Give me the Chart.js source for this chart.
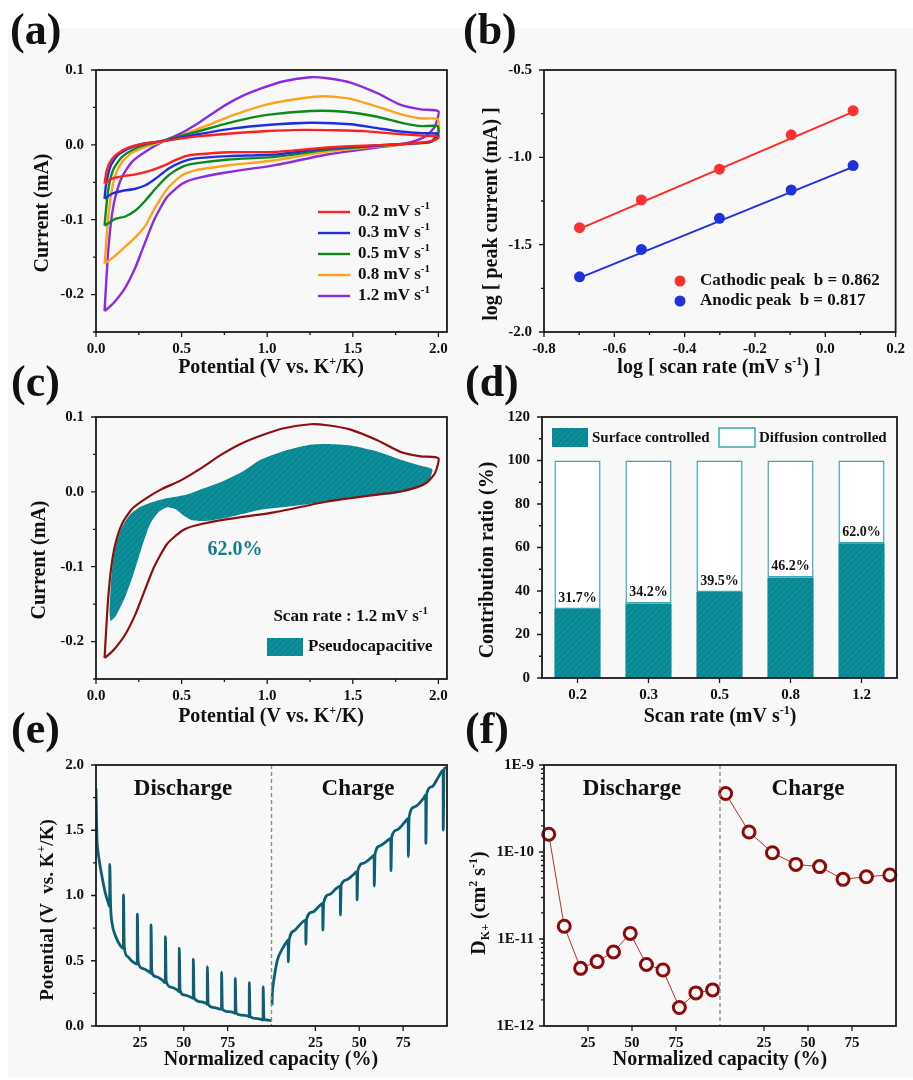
<!DOCTYPE html>
<html>
<head>
<meta charset="utf-8">
<script src="https://cdn.jsdelivr.net/npm/chart.js@4.4.0/dist/chart.umd.min.js"></script>
<style>
  html, body { margin: 0; padding: 0; background: #fff; }
  #fig { position: relative; width: 913px; height: 1080px; overflow: hidden; }
  #bg { position: absolute; left: 8px; top: 28px; width: 905px; height: 1050px; background: #f8f8f8; }
  canvas { position: absolute; }
</style>
</head>
<body>
<div id="fig">
  <div id="bg"></div>
  <canvas id="cvA" width="456" height="380" style="left:0;top:0"></canvas>
  <canvas id="cvB" width="458" height="380" style="left:455px;top:0"></canvas>
  <canvas id="cvC" width="456" height="375" style="left:0;top:360px"></canvas>
  <canvas id="cvD" width="458" height="375" style="left:455px;top:360px"></canvas>
  <canvas id="cvE" width="456" height="380" style="left:0;top:700px"></canvas>
  <canvas id="cvF" width="458" height="380" style="left:455px;top:700px"></canvas>
</div>
<script>
// ---- data ----
const scanRates = ['0.2', '0.3', '0.5', '0.8', '1.2'];

// CV loops [potential V, current mA]: anodic sweep up to 2.0 V, then cathodic sweep back
const cv02 = [[0.05,-0.052],[0.064,-0.033],[0.093,-0.019],[0.132,-0.011],[0.191,-0.0035],[0.269,0.0012],[0.386,0.005],[0.58,0.011],[0.805,0.0155],[1.0,0.0185],[1.195,0.020],[1.4,0.0195],[1.585,0.018],[1.741,0.015],[1.858,0.0131],[1.936,0.0117],[1.995,0.0117],[2.0,0.009],[1.955,0.0049],[1.838,0.0018],[1.643,-0.0004],[1.351,-0.0035],[1.048,-0.0094],[0.776,-0.0098],[0.58,-0.0129],[0.522,-0.015],[0.464,-0.0205],[0.386,-0.0286],[0.308,-0.035],[0.23,-0.0394],[0.152,-0.042],[0.093,-0.045],[0.05,-0.052]];
const cv03 = [[0.05,-0.072],[0.058,-0.054],[0.084,-0.029],[0.122,-0.0152],[0.191,-0.0049],[0.269,0.0012],[0.386,0.005],[0.58,0.0135],[0.805,0.022],[1.0,0.0265],[1.253,0.0295],[1.49,0.0275],[1.65,0.022],[1.78,0.0178],[1.9,0.0155],[1.995,0.015],[2.0,0.011],[1.955,0.004],[1.838,0.0018],[1.643,-0.0009],[1.351,-0.0045],[1.048,-0.0129],[0.776,-0.015],[0.58,-0.0181],[0.503,-0.0226],[0.425,-0.0316],[0.347,-0.0452],[0.289,-0.054],[0.23,-0.0586],[0.152,-0.0617],[0.093,-0.0653],[0.05,-0.072]];
const cv05 = [[0.05,-0.108],[0.058,-0.0877],[0.074,-0.0563],[0.103,-0.032],[0.152,-0.0161],[0.23,-0.0049],[0.308,0.0012],[0.386,0.0054],[0.58,0.017],[0.805,0.031],[1.0,0.040],[1.253,0.0452],[1.448,0.0443],[1.643,0.0376],[1.799,0.0286],[1.897,0.025],[1.995,0.025],[2.0,0.015],[1.955,0.004],[1.838,0.0018],[1.643,-0.0013],[1.351,-0.0067],[1.048,-0.0161],[0.776,-0.0195],[0.58,-0.0248],[0.503,-0.0293],[0.425,-0.0405],[0.347,-0.0586],[0.289,-0.0743],[0.23,-0.0877],[0.171,-0.0957],[0.113,-0.0989],[0.05,-0.108]];
const cv08 = [[0.05,-0.159],[0.058,-0.137],[0.07,-0.101],[0.089,-0.065],[0.113,-0.0405],[0.152,-0.0228],[0.21,-0.0107],[0.288,-0.0027],[0.386,0.004],[0.493,0.012],[0.649,0.026],[0.805,0.040],[1.0,0.054],[1.195,0.062],[1.332,0.065],[1.487,0.0615],[1.643,0.051],[1.799,0.0398],[1.897,0.0353],[1.995,0.0344],[2.0,0.02],[1.955,0.004],[1.838,0.0013],[1.643,-0.0022],[1.351,-0.0089],[1.048,-0.0205],[0.776,-0.0273],[0.58,-0.034],[0.503,-0.0405],[0.425,-0.0564],[0.347,-0.0832],[0.289,-0.1078],[0.23,-0.1235],[0.171,-0.136],[0.113,-0.148],[0.05,-0.159]];
const cv12 = [[0.05,-0.222],[0.058,-0.19],[0.07,-0.146],[0.089,-0.101],[0.113,-0.0697],[0.152,-0.0429],[0.21,-0.0228],[0.288,-0.0093],[0.386,0.004],[0.493,0.015],[0.61,0.031],[0.727,0.049],[0.844,0.064],[0.961,0.075],[1.097,0.085],[1.253,0.0903],[1.351,0.089],[1.487,0.0832],[1.643,0.069],[1.78,0.0533],[1.897,0.0474],[2.0,0.045],[1.98,0.025],[1.936,0.0131],[1.877,0.0063],[1.78,0.0005],[1.643,-0.0036],[1.351,-0.0129],[1.048,-0.027],[0.776,-0.0362],[0.58,-0.045],[0.503,-0.052],[0.415,-0.0697],[0.338,-0.101],[0.269,-0.141],[0.23,-0.1637],[0.171,-0.1906],[0.113,-0.2085],[0.074,-0.2175],[0.05,-0.222]];

// log(scan rate) vs log(peak current)
const logScanRate = [-0.699, -0.523, -0.301, -0.097, 0.079];
const logCathodic = [-1.403, -1.244, -1.068, -0.871, -0.733];
const logAnodic = [-1.684, -1.527, -1.349, -1.187, -1.047];
const fitX = [-0.699, 0.079];
const cathodicFit = [-1.41, -0.74];
const anodicFit = [-1.69, -1.055];
const bValues = [0.862, 0.817];

// pseudocapacitive region at 1.2 mV/s
const pseudoRegion = [[0.084,-0.173],[0.079,-0.16],[0.085,-0.13],[0.095,-0.10],[0.115,-0.072],[0.15,-0.048],[0.2,-0.03],[0.26,-0.02],[0.327,-0.014],[0.405,-0.009],[0.483,-0.006],[0.542,-0.003],[0.62,0.004],[0.737,0.014],[0.854,0.027],[0.961,0.043],[1.117,0.056],[1.253,0.063],[1.351,0.064],[1.487,0.062],[1.643,0.054],[1.78,0.043],[1.897,0.035],[1.965,0.030],[1.936,0.012],[1.858,0.004],[1.741,-0.003],[1.545,-0.007],[1.351,-0.013],[1.156,-0.019],[0.961,-0.024],[0.776,-0.034],[0.64,-0.039],[0.562,-0.038],[0.513,-0.032],[0.464,-0.023],[0.415,-0.0205],[0.366,-0.027],[0.318,-0.042],[0.269,-0.073],[0.22,-0.109],[0.171,-0.14],[0.113,-0.167],[0.084,-0.173]];

// capacity contribution (%)
const surfacePct = [31.7, 34.2, 39.5, 46.2, 62.0];
const diffusionPct = [68.3, 65.8, 60.5, 53.8, 38.0];

// GITT profile: normalized capacity 0-100 discharge, 100-200 charge
const gittDisCap = [0,0.25,0.55,1.0,1.5,2.4,3.4,5.3,7.2,7.8,7.85,8.3,9.15,11.1,13.9,15.6,15.65,16.1,17.75,20.6,23.5,23.55,24.0,26.4,30.2,31.3,31.35,31.8,34.0,37.8,39.5,39.55,40.0,42.6,46.4,47.4,47.45,47.9,50.2,54.1,55.4,55.45,55.9,58.9,62.7,63.4,63.45,63.9,66.5,70.7,71.5,71.55,72.0,75.1,78.7,79.3,79.35,79.8,82.7,86.5,87.3,87.35,87.8,90.4,94.2,95.2,95.25,95.7,97.5,100];
const gittDisV = [1.82,1.62,1.43,1.35,1.30,1.22,1.145,1.02,0.935,0.915,1.239,0.93,0.79,0.69,0.615,0.595,1.004,0.61,0.535,0.495,0.475,0.858,0.49,0.442,0.416,0.404,0.774,0.415,0.378,0.352,0.332,0.685,0.345,0.298,0.275,0.263,0.596,0.27,0.238,0.22,0.212,0.513,0.218,0.187,0.174,0.166,0.455,0.17,0.143,0.13,0.128,0.412,0.13,0.11,0.102,0.097,0.366,0.1,0.084,0.077,0.071,0.335,0.074,0.059,0.051,0.046,0.301,0.05,0.046,0.04];
const gittChgCap = [100.3,100.5,101.1,101.9,103.4,106.3,108.8,109.5,109.55,110.0,112.9,117.8,119.5,119.55,120.0,123.5,127.3,129.2,129.25,129.7,133.1,136.9,139.2,139.25,139.7,142.6,146.4,148.7,148.75,149.2,152.2,157.0,158.5,158.55,159.0,161.7,166.5,168.0,168.05,168.5,171.3,176.1,177.9,177.95,178.4,181.8,186.6,187.9,187.95,188.4,191.3,195.2,197.8,197.85,198.3,199.5];
const gittChgV = [0.16,0.25,0.33,0.403,0.506,0.595,0.647,0.659,0.492,0.655,0.73,0.799,0.812,0.626,0.82,0.874,0.92,0.939,0.734,0.945,1.008,1.054,1.072,0.85,1.08,1.119,1.157,1.182,0.965,1.19,1.246,1.292,1.31,1.072,1.318,1.38,1.425,1.438,1.188,1.447,1.502,1.565,1.591,1.297,1.6,1.681,1.745,1.771,1.40,1.78,1.833,1.91,1.961,1.502,1.965,1.98];

// K+ diffusion coefficient (cm2/s)
const diffDisCap = [2.7, 11.5, 20.8, 30.2, 39.5, 49.0, 58.2, 67.6, 76.9, 86.3, 95.8];
const diffDis = [1.6e-10, 1.4e-11, 4.6e-12, 5.5e-12, 7.1e-12, 1.16e-11, 5.1e-12, 4.4e-12, 1.63e-12, 2.4e-12, 2.6e-12];
const diffChgCap = [103.2, 116.5, 129.8, 143.1, 156.6, 169.9, 183.2, 196.5];
const diffChg = [4.7e-10, 1.7e-10, 9.8e-11, 7.2e-11, 6.8e-11, 4.85e-11, 5.2e-11, 5.45e-11];

// tick labels
const cvXTicks = [0, 0.5, 1.0, 1.5, 2.0];
const cvYTicks = [-0.2, -0.1, 0, 0.1];
const logXTicks = [-0.8, -0.6, -0.4, -0.2, 0, 0.2];
const logYTicks = [-2.0, -1.5, -1.0, -0.5];
const ratioTicks = [0, 20, 40, 60, 80, 100, 120];
const gittYTicks = [0, 0.5, 1.0, 1.5, 2.0];
const capTicks = [25, 50, 75, 125, 150, 175];
const capTickLabels = ['25', '50', '75', '25', '50', '75'];
const diffTicks = [1e-12, 1e-11, 1e-10, 1e-9];

// ---- styling ----
const SERIF = '"Liberation Serif", "Times New Roman", Times, serif';
const cvColors = ['#ff1f1f', '#1f2fe0', '#0d8a1d', '#ffa31a', '#8b2be0'];
const TEAL = '#0c8e99';
const XH = 30;

Chart.defaults.font.family = SERIF;
Chart.defaults.font.weight = 'bold';
Chart.defaults.font.size = 15;
Chart.defaults.color = '#111';

function hatch(base) {
  const c = document.createElement('canvas');
  c.width = c.height = 6;
  const g = c.getContext('2d');
  g.fillStyle = base;
  g.fillRect(0, 0, 6, 6);
  g.strokeStyle = 'rgba(0,50,60,0.22)';
  g.lineWidth = 1;
  g.beginPath();
  g.moveTo(0, 6); g.lineTo(6, 0);
  g.moveTo(-1, 1); g.lineTo(1, -1);
  g.moveTo(5, 7); g.lineTo(7, 5);
  g.stroke();
  return g.createPattern(c, 'repeat');
}
const tealHatch = hatch(TEAL);

// text with ^{sup} and _{sub} parts
function richText(ctx, str, x, y, size, opts = {}) {
  const parts = [];
  const re = /([\^_])\{([^}]*)\}/g;
  let last = 0, m;
  while ((m = re.exec(str))) {
    if (m.index > last) parts.push({ t: str.slice(last, m.index), k: '' });
    parts.push({ t: m[2], k: m[1] });
    last = re.lastIndex;
  }
  if (last < str.length) parts.push({ t: str.slice(last), k: '' });
  const small = Math.round(size * 0.62);
  const fontOf = k => `bold ${k ? small : size}px ${SERIF}`;
  let total = 0;
  parts.forEach(p => { ctx.font = fontOf(p.k); p.w = ctx.measureText(p.t).width; total += p.w; });
  ctx.save();
  ctx.translate(x, y);
  if (opts.rotate) ctx.rotate(opts.rotate);
  ctx.fillStyle = opts.color || '#111';
  ctx.textBaseline = 'middle';
  ctx.textAlign = 'left';
  let cx = opts.align === 'left' ? 0 : opts.align === 'right' ? -total : -total / 2;
  parts.forEach(p => {
    ctx.font = fontOf(p.k);
    const dy = p.k === '^' ? -size * 0.32 : p.k === '_' ? size * 0.3 : 0;
    ctx.fillText(p.t, cx, dy);
    cx += p.w;
  });
  ctx.restore();
  return total;
}

function minorValues(scale, step) {
  const out = [];
  if (step === 'log') {
    for (let e = Math.round(Math.log10(scale.min)); e < Math.round(Math.log10(scale.max)); e++)
      for (let k = 2; k < 10; k++) out.push(k * Math.pow(10, e));
  } else if (step) {
    for (let v = Math.ceil(scale.min / step - 1e-9) * step; v <= scale.max + 1e-9; v += step) out.push(v);
  }
  return out;
}

// box frame, outward ticks, titles and panel letter
function decor(cfg) {
  return {
    id: 'decor',
    afterDraw(chart) {
      const ctx = chart.ctx, a = chart.chartArea;
      const xs = chart.scales.x, ys = chart.scales.y;
      if (cfg.extraBelow) cfg.extraBelow(chart, ctx);
      ctx.save();
      ctx.strokeStyle = '#1a1a1a';
      ctx.lineWidth = 1.3;
      ctx.beginPath();
      xs.ticks.forEach((t, i) => {
        const px = xs.getPixelForTick(i);
        ctx.moveTo(px, a.bottom); ctx.lineTo(px, a.bottom + 5);
      });
      ys.ticks.forEach((t, i) => {
        const py = ys.getPixelForTick(i);
        ctx.moveTo(a.left, py); ctx.lineTo(a.left - 5, py);
      });
      minorValues(xs, cfg.xMinor).forEach(v => {
        const px = xs.getPixelForValue(v);
        ctx.moveTo(px, a.bottom); ctx.lineTo(px, a.bottom + 3);
      });
      minorValues(ys, cfg.yMinor).forEach(v => {
        const py = ys.getPixelForValue(v);
        ctx.moveTo(a.left, py); ctx.lineTo(a.left - 3, py);
      });
      ctx.stroke();
      ctx.lineWidth = 1.8;
      ctx.strokeRect(a.left, a.top, a.right - a.left, a.bottom - a.top);
      ctx.restore();
      richText(ctx, cfg.letter, cfg.letterAt[0], cfg.letterAt[1], 44, { align: 'left' });
      richText(ctx, cfg.xTitle, cfg.xTitleAt[0], cfg.xTitleAt[1], 20);
      richText(ctx, cfg.yTitle, cfg.yTitleAt[0], cfg.yTitleAt[1], cfg.yTitleSize || 20, { rotate: -Math.PI / 2 });
      if (cfg.extra) cfg.extra(chart, ctx);
    }
  };
}

function linAxis(min, max, ticks, fmt, size, pad, type) {
  return {
    type: type || 'linear', min, max,
    grid: { display: false, drawTicks: false },
    border: { display: false },
    afterBuildTicks: s => { s.ticks = ticks.map(v => ({ value: v })); },
    afterFit: s => { if (s.isHorizontal()) s.height = size; else s.width = size; },
    ticks: { padding: pad, autoSkip: false, maxRotation: 0, callback: fmt }
  };
}

function baseOptions(box, xAxis, yAxis) {
  const c = box.canvas, a = box.area;
  return {
    responsive: false, animation: false, devicePixelRatio: 1, events: [],
    layout: { padding: { left: 0, top: a.t - c.t, right: c.l + c.w - a.r, bottom: c.t + c.h - a.b - XH } },
    plugins: { legend: { display: false }, tooltip: { enabled: false } },
    scales: { x: xAxis, y: yAxis }
  };
}

const panels = {
  a: { canvas: { l: 0, t: 0, w: 456, h: 380 }, area: { l: 96, t: 70, r: 447, b: 332 } },
  b: { canvas: { l: 455, t: 0, w: 458, h: 380 }, area: { l: 544, t: 70, r: 896, b: 332 } },
  c: { canvas: { l: 0, t: 360, w: 456, h: 375 }, area: { l: 96, t: 417, r: 447, b: 679 } },
  d: { canvas: { l: 455, t: 360, w: 458, h: 375 }, area: { l: 542, t: 417, r: 897, b: 678 } },
  e: { canvas: { l: 0, t: 700, w: 456, h: 380 }, area: { l: 96, t: 765, r: 447, b: 1026 } },
  f: { canvas: { l: 455, t: 700, w: 458, h: 380 }, area: { l: 544, t: 765, r: 896, b: 1026 } }
};
const yw = k => panels[k].area.l - panels[k].canvas.l;
const f1 = v => v.toFixed(1);
const pairs = arr => arr.map(([x, y]) => ({ x, y }));
const zip = (xs, ys) => xs.map((x, i) => ({ x, y: ys[i] }));

// (a) CV curves at several scan rates
new Chart(document.getElementById('cvA'), {
  type: 'line',
  data: {
    datasets: [cv02, cv03, cv05, cv08, cv12].map((pts, i) => ({
      label: scanRates[i] + ' mV s^{-1}',
      data: pairs(pts),
      borderColor: cvColors[i], borderWidth: 2.4, pointRadius: 0, tension: 0.2, fill: false
    }))
  },
  options: baseOptions(panels.a,
    linAxis(0, 2.05, cvXTicks, f1, XH, 8),
    linAxis(-0.25, 0.1, cvYTicks, f1, yw('a'), 12)),
  plugins: [decor({
    letter: '(a)', letterAt: [10, 33],
    xTitle: 'Potential (V vs. K^{+}/K)', xTitleAt: [271, 368],
    yTitle: 'Current (mA)', yTitleAt: [43, 213],
    xMinor: 0.25, yMinor: 0.05,
    extra(chart, ctx) {
      chart.data.datasets.forEach((ds, i) => {
        const y = 212 + i * 21;
        ctx.strokeStyle = ds.borderColor;
        ctx.lineWidth = 2.4;
        ctx.beginPath(); ctx.moveTo(318, y); ctx.lineTo(350, y); ctx.stroke();
        richText(ctx, ds.label, 358, y, 17, { align: 'left' });
      });
    }
  })]
});

// (b) b-value fits
new Chart(document.getElementById('cvB'), {
  type: 'scatter',
  data: {
    datasets: [
      { label: 'Cathodic peak  b = ' + bValues[0].toFixed(3), data: zip(logScanRate, logCathodic), backgroundColor: '#ff3030', pointRadius: 5.5, pointBorderWidth: 0 },
      { label: 'Anodic peak  b = ' + bValues[1].toFixed(3), data: zip(logScanRate, logAnodic), backgroundColor: '#1e32dc', pointRadius: 5.5, pointBorderWidth: 0 },
      { data: zip(fitX, cathodicFit), showLine: true, borderColor: '#ff2a2a', borderWidth: 2, pointRadius: 0 },
      { data: zip(fitX, anodicFit), showLine: true, borderColor: '#1e32dc', borderWidth: 2, pointRadius: 0 }
    ]
  },
  options: baseOptions(panels.b,
    linAxis(-0.8, 0.2, logXTicks, f1, XH, 8),
    linAxis(-2.0, -0.5, logYTicks, f1, yw('b'), 12)),
  plugins: [decor({
    letter: '(b)', letterAt: [8, 33],
    xTitle: 'log [ scan rate (mV s^{-1}) ]', xTitleAt: [264, 368],
    yTitle: 'log [ peak current (mA) ]', yTitleAt: [37, 214],
    xMinor: 0.1, yMinor: 0.25,
    extra(chart, ctx) {
      [0, 1].forEach(i => {
        const ds = chart.data.datasets[i];
        const y = 281 + i * 20;
        ctx.fillStyle = ds.backgroundColor;
        ctx.beginPath(); ctx.arc(225, y, 5.5, 0, Math.PI * 2); ctx.fill();
        richText(ctx, ds.label, 245, y, 17, { align: 'left' });
      });
    }
  })]
});

// (c) pseudocapacitive share at 1.2 mV/s
new Chart(document.getElementById('cvC'), {
  type: 'line',
  data: {
    datasets: [
      { label: 'CV', data: pairs(cv12), borderColor: '#8e0f0f', borderWidth: 2.2, pointRadius: 0, tension: 0.2, fill: false },
      { label: 'Pseudocapacitive', data: pairs(pseudoRegion), borderWidth: 0, pointRadius: 0, tension: 0.2, fill: 'shape', backgroundColor: tealHatch }
    ]
  },
  options: baseOptions(panels.c,
    linAxis(0, 2.05, cvXTicks, f1, XH, 8),
    linAxis(-0.25, 0.1, cvYTicks, f1, yw('c'), 12)),
  plugins: [decor({
    letter: '(c)', letterAt: [11, 25],
    xTitle: 'Potential (V vs. K^{+}/K)', xTitleAt: [271, 357],
    yTitle: 'Current (mA)', yTitleAt: [40, 200],
    xMinor: 0.25, yMinor: 0.05,
    extra(chart, ctx) {
      richText(ctx, surfacePct[4].toFixed(1) + '%', 235, 190, 20, { color: '#147f8c' });
      richText(ctx, 'Scan rate : ' + scanRates[4] + ' mV s^{-1}', 428, 257, 17, { align: 'right' });
      ctx.fillStyle = tealHatch;
      ctx.fillRect(267, 278, 36, 18);
      richText(ctx, chart.data.datasets[1].label, 308, 287, 17, { align: 'left' });
    }
  })]
});

// (d) surface vs diffusion contribution
new Chart(document.getElementById('cvD'), {
  type: 'bar',
  data: {
    labels: scanRates,
    datasets: [
      { label: 'Surface controlled', data: surfacePct, backgroundColor: tealHatch, borderWidth: 0, barPercentage: 0.65, categoryPercentage: 1 },
      { label: 'Diffusion controlled', data: diffusionPct, backgroundColor: '#ffffff', borderColor: '#3aa9b4', borderWidth: 1.5, borderSkipped: false, barPercentage: 0.65, categoryPercentage: 1 }
    ]
  },
  options: (() => {
    const o = baseOptions(panels.d,
      { type: 'category', stacked: true, grid: { display: false, drawTicks: false }, border: { display: false },
        afterFit: s => { s.height = XH; }, ticks: { padding: 8 } },
      linAxis(0, 120, ratioTicks, v => String(v), yw('d'), 12));
    o.scales.y.stacked = true;
    return o;
  })(),
  plugins: [decor({
    letter: '(d)', letterAt: [10, 25],
    xTitle: 'Scan rate (mV s^{-1})', xTitleAt: [265, 357],
    yTitle: 'Contribution ratio (%)', yTitleAt: [33, 200],
    yMinor: 10,
    extra(chart, ctx) {
      const meta = chart.getDatasetMeta(0);
      meta.data.forEach((bar, i) => {
        richText(ctx, surfacePct[i].toFixed(1) + '%', bar.x, bar.y - 11, 14);
      });
      const ds = chart.data.datasets;
      ctx.fillStyle = tealHatch;
      ctx.fillRect(97, 68, 36, 19);
      richText(ctx, ds[0].label, 137, 78, 15, { align: 'left' });
      ctx.fillStyle = '#fff';
      ctx.fillRect(264, 68, 36, 19);
      ctx.strokeStyle = ds[1].borderColor; ctx.lineWidth = 1.5;
      ctx.strokeRect(264, 68, 36, 19);
      richText(ctx, ds[1].label, 304, 78, 15, { align: 'left' });
    }
  })]
});

function splitMarks(chart, ctx) {
  const a = chart.chartArea, px = chart.scales.x.getPixelForValue(100);
  ctx.save();
  ctx.strokeStyle = '#8a8a8a'; ctx.lineWidth = 1.4; ctx.setLineDash([4, 3]);
  ctx.beginPath(); ctx.moveTo(px, a.top); ctx.lineTo(px, a.bottom); ctx.stroke();
  ctx.restore();
}
const capFmt = (v, i) => capTickLabels[i];

// (e) GITT potential profile
new Chart(document.getElementById('cvE'), {
  type: 'line',
  data: {
    datasets: [
      { data: zip(gittDisCap, gittDisV), borderColor: '#0f5f73', borderWidth: 2.8, pointRadius: 0, cubicInterpolationMode: 'monotone', fill: false },
      { data: zip(gittChgCap, gittChgV), borderColor: '#0f5f73', borderWidth: 2.8, pointRadius: 0, cubicInterpolationMode: 'monotone', fill: false }
    ]
  },
  options: baseOptions(panels.e,
    linAxis(0, 200, capTicks, capFmt, XH, 8),
    linAxis(0, 2.0, gittYTicks, f1, yw('e'), 12)),
  plugins: [decor({
    letter: '(e)', letterAt: [11, 32],
    xTitle: 'Normalized capacity (%)', xTitleAt: [271, 360],
    yTitle: 'Potential (V  vs. K^{+}/K)', yTitleAt: [48, 210], yTitleSize: 19,
    yMinor: 0.25,
    extraBelow: splitMarks,
    extra(chart, ctx) {
      richText(ctx, 'Discharge', 183, 89, 23);
      richText(ctx, 'Charge', 358, 89, 23);
    }
  })]
});

// (f) K+ diffusion coefficient
const diffStyle = { borderColor: '#b8302c', borderWidth: 1, pointRadius: 6, pointBorderWidth: 3, pointBorderColor: '#8b0a0a', pointBackgroundColor: '#f8f8f8', tension: 0, fill: false, clip: false };
new Chart(document.getElementById('cvF'), {
  type: 'line',
  data: {
    datasets: [
      Object.assign({ data: zip(diffDisCap, diffDis) }, diffStyle),
      Object.assign({ data: zip(diffChgCap, diffChg) }, diffStyle)
    ]
  },
  options: baseOptions(panels.f,
    linAxis(0, 200, capTicks, capFmt, XH, 8),
    linAxis(1e-12, 1e-9, diffTicks, v => '1E' + Math.round(Math.log10(v)), yw('f'), 10, 'logarithmic')),
  plugins: [decor({
    letter: '(f)', letterAt: [10, 32],
    xTitle: 'Normalized capacity (%)', xTitleAt: [265, 360],
    yTitle: 'D_{K+} (cm^{2} s^{-1})', yTitleAt: [25, 203],
    yMinor: 'log',
    extraBelow: splitMarks,
    extra(chart, ctx) {
      richText(ctx, 'Discharge', 177, 89, 23);
      richText(ctx, 'Charge', 353, 89, 23);
    }
  })]
});
</script>
</body>
</html>
